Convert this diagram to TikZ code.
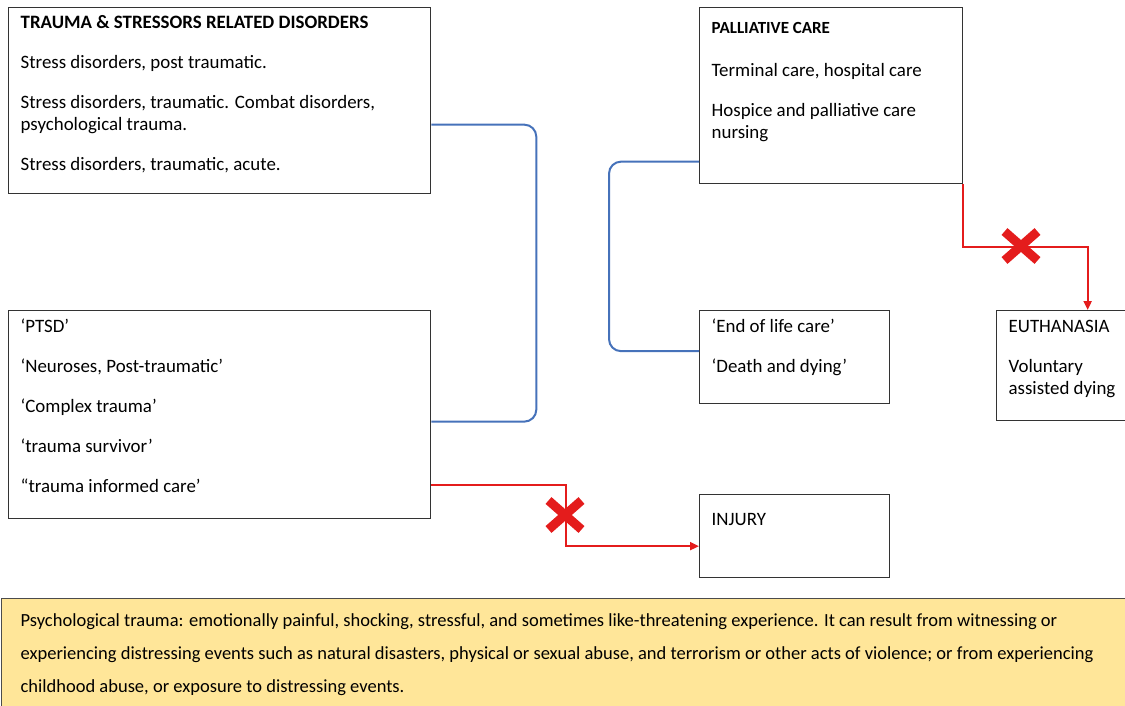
\documentclass[tikz,border=0pt]{standalone}
\usepackage{fontspec}
\setmainfont{Carlito}
\usetikzlibrary{arrows.meta, positioning, shapes.misc}
\definecolor{tieblue}{RGB}{70,114,186}
\definecolor{cutred}{RGB}{228,28,28}
\definecolor{noteyellow}{RGB}{255,230,153}
\newcommand{\cardbody}[3]{\parbox[c][#2][t]{#1}{\setlength{\parskip}{18pt}#3}}

\begin{document}
\begin{tikzpicture}[
  x=1pt, y=-1pt,
  card/.style={draw=black!80, line width=1.3pt, anchor=north west, inner xsep=12pt, inner ysep=8pt, font=\fontsize{18.9}{22}\selectfont},
  note/.style={draw=black!70, line width=1.3pt, fill=noteyellow, anchor=north west, inner xsep=19pt, inner ysep=15pt, font=\fontsize{18.5}{33}\selectfont},
  tie/.style={draw=tieblue, line width=2pt, rounded corners=12pt},
  cut/.style={draw=cutred, line width=2pt, -{Triangle[length=9pt,width=8pt]}},
  ban/.style={cross out, draw=cutred, line width=9pt, minimum width=24pt, minimum height=20pt, inner sep=0pt},
]
  \useasboundingbox (0,0) rectangle (1125,706);

  % boxes
  \node[card] (trauma) at (8,7) {\cardbody{398pt}{170pt}{%
    {\bfseries TRAUMA \& STRESSORS RELATED DISORDERS}\par
    Stress disorders, post traumatic.\par
    Stress disorders, traumatic. Combat disorders,\\psychological trauma.\par
    Stress disorders, traumatic, acute.}};
  \node[card] (ptsd) at (8,310) {\cardbody{398pt}{192pt}{%
    ‘PTSD’\par
    ‘Neuroses, Post-traumatic’\par
    ‘Complex trauma’\par
    ‘trauma survivor’\par
    “trauma informed care’}};
  \node[card] (pall) at (699,7) {\cardbody{239pt}{160pt}{%
    \vspace*{-11pt}{\bfseries\fontsize{17}{22}\selectfont PALLIATIVE CARE}\par
    \vspace{3pt}Terminal care, hospital care\par
    Hospice and palliative care\\nursing}};
  \node[card] (eol) at (699,310) {\cardbody{166pt}{77pt}{%
    ‘End of life care’\par
    ‘Death and dying’}};
  \node[card] (euth) at (996,310) {\cardbody{110pt}{94pt}{%
    \vspace*{-16pt}EUTHANASIA\par
    Voluntary\\assisted dying}};
  \node[card] (injury) at (699,494) {\cardbody{166pt}{67pt}{%
    \vspace*{-7pt}INJURY}};
  \node[note] (note) at (1,598) {\parbox[c][100pt][t]{1100pt}{%
    Psychological trauma: emotionally painful, shocking, stressful, and sometimes like-threatening experience. It can result from witnessing or\\
    experiencing distressing events such as natural disasters, physical or sexual abuse, and terrorism or other acts of violence; or from experiencing\\
    childhood abuse, or exposure to distressing events.}};

  % links
  \draw[tie] ([yshift=-24pt]trauma.east) -- ++(105,0) |- ([yshift=-7pt]ptsd.east);
  \draw[tie] ([yshift=-66pt]pall.west) -- ++(-90,0) |- ([yshift=6pt]eol.west);

  % rejected links
  \draw[cut] ([yshift=-70pt]ptsd.east) -- ++(135,0) |- ([yshift=-10pt]injury.west);
  \node[ban] (ban1) at (565,515) {};
  \draw[cut] (pall.south east) -- ++(0,63) -| ([xshift=24pt]euth.north);
  \node[ban] (ban2) at (1021,246) {};
\end{tikzpicture}
\end{document}
